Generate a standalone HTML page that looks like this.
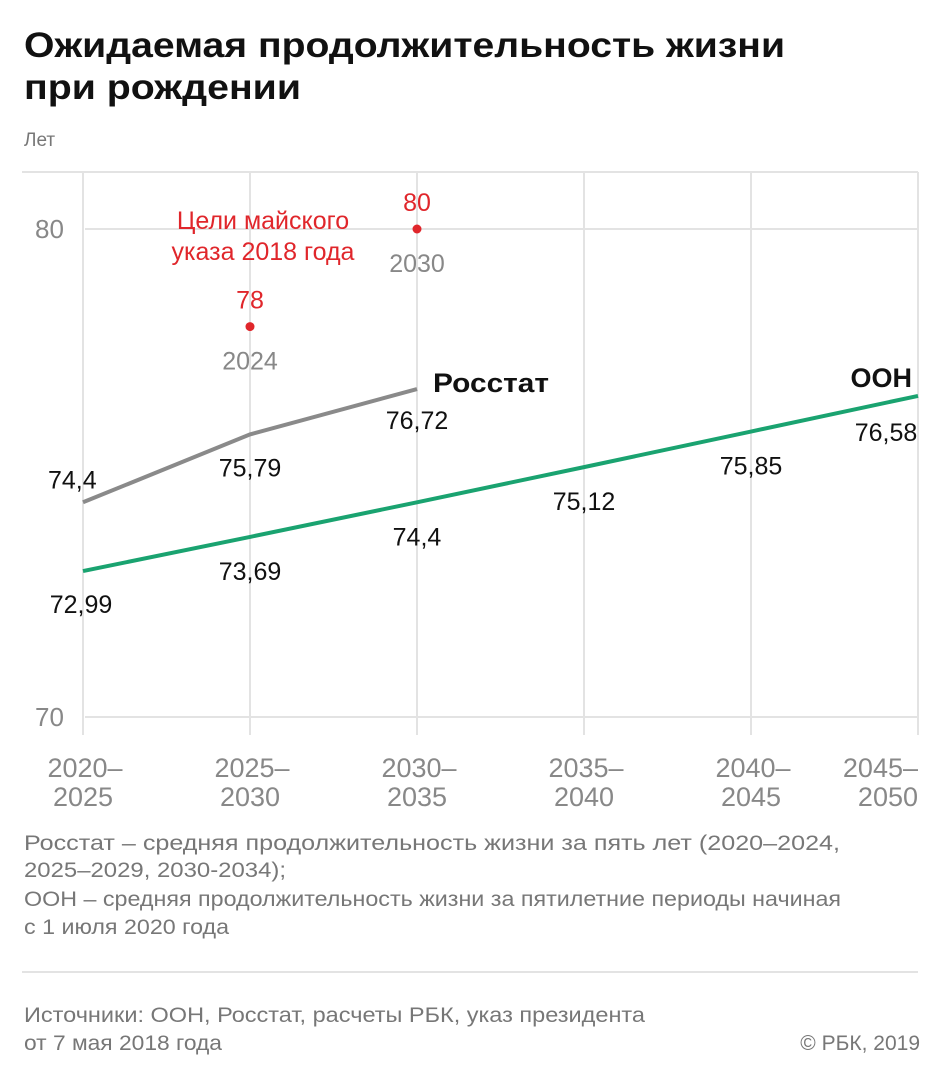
<!DOCTYPE html>
<html><head><meta charset="utf-8"><style>
body{margin:0;background:#fff;font-family:"Liberation Sans",sans-serif;}
svg text{font-family:"Liberation Sans","DejaVu Sans",sans-serif;}
</style></head><body>
<svg width="945" height="1087" viewBox="0 0 945 1087">
<text x="24" y="57" font-size="35" font-weight="bold" fill="#111" textLength="761" lengthAdjust="spacingAndGlyphs">Ожидаемая продолжительность жизни</text>
<text x="24" y="99" font-size="35" font-weight="bold" fill="#111" textLength="277" lengthAdjust="spacingAndGlyphs">при рождении</text>
<text x="24" y="146" font-size="19" fill="#777">Лет</text>
<line x1="22" y1="172" x2="918" y2="172" stroke="#e3e3e3" stroke-width="2"/>
<g id="grid"></g>
<g id="marks"></g>
<line x1="22" y1="972" x2="918" y2="972" stroke="#e3e3e3" stroke-width="2"/>
<g font-size="21" fill="#777" lengthAdjust="spacingAndGlyphs">
<text x="24" y="850" textLength="816" lengthAdjust="spacingAndGlyphs">Росстат – средняя продолжительность жизни за пять лет (2020–2024,</text>
<text x="24" y="877" textLength="262" lengthAdjust="spacingAndGlyphs">2025–2029, 2030-2034);</text>
<text x="24" y="906" textLength="817" lengthAdjust="spacingAndGlyphs">ООН – средняя продолжительность жизни за пятилетние периоды начиная</text>
<text x="24" y="934" textLength="205" lengthAdjust="spacingAndGlyphs">с 1 июля 2020 года</text>
<text x="24" y="1022" textLength="621" lengthAdjust="spacingAndGlyphs">Источники: ООН, Росстат, расчеты РБК, указ президента</text>
<text x="24" y="1050" textLength="198" lengthAdjust="spacingAndGlyphs">от 7 мая 2018 года</text>
<text x="920" y="1050" text-anchor="end">© РБК, 2019</text>
</g>
</svg>
<script>
const categories=["2020–2025","2025–2030","2030–2035","2035–2040","2040–2045","2045–2050"];
const rosstat=[74.4,75.79,76.72];
const oon=[72.99,73.69,74.4,75.12,75.85,76.58];
const targetIdx=[1,2];
const targetVals=[78,80];
const targetYears=["2024","2030"];
const yTicks=[70,80];
const NS="http://www.w3.org/2000/svg";
const xS=i=>83+i*167;
const yS=v=>717-(v-70)*48.8;
function mk(p,t,a,txt){const e=document.createElementNS(NS,t);for(const k in a)e.setAttribute(k,a[k]);if(txt!=null)e.textContent=txt;p.appendChild(e);return e;}
const g=document.getElementById('grid'),m=document.getElementById('marks');
categories.forEach((c,i)=>{
 const l=mk(g,'line',{x1:xS(i),y1:172,x2:xS(i),y2:735,stroke:'#e3e3e3','stroke-width':2});
 
 
 const p=c.split('–');
 const last=i==categories.length-1;
 const anc=last?'end':'middle';
 const tx=last?xS(i):xS(i)+2;
 const t=mk(g,'text',{x:tx,y:777,'font-size':27,fill:'#888','text-anchor':anc},p[0]+'–');
 
 
 const t2=mk(g,'text',{x:last?xS(i):xS(i),y:806,'font-size':27,fill:'#888','text-anchor':anc},p[1]);
 
 
});
yTicks.forEach(v=>{
 const l=mk(g,'line',{x1:85,y1:yS(v),x2:918,y2:yS(v),stroke:'#e3e3e3','stroke-width':2});
 
 
 const t=mk(g,'text',{x:35,y:yS(v)+9,'font-size':26,fill:'#888'},String(v));
 
 
});
const fmt=v=>String(v).replace('.',',');
const rl=mk(m,'polyline',{points:rosstat.map((v,i)=>xS(i)+','+yS(v)).join(' '),fill:'none',stroke:'#8a8a8a','stroke-width':4});


const ol=mk(m,'polyline',{points:oon.map((v,i)=>xS(i)+','+yS(v)).join(' '),fill:'none',stroke:'#1aa370','stroke-width':4});


rosstat.forEach((v,i)=>{
 const dy=i==0?-14:(i==1?42:40);
 const t=mk(m,'text',{x:xS(i),y:yS(v)+dy,'font-size':25,fill:'#111','text-anchor':i==0?'start':'middle'},fmt(v));
 if(i==0)t.setAttribute('x',xS(i)-35);
 
 
});
oon.forEach((v,i)=>{
 const t=mk(m,'text',{x:xS(i),y:yS(v)+(i==5?45:(i==0?42:43)),'font-size':25,fill:'#111','text-anchor':'middle'},fmt(v));
 if(i==0)t.setAttribute('x',xS(i)-2);
 if(i==5)t.setAttribute('x',xS(i)-32);
 
 
});
const rn=mk(m,'text',{x:xS(2)+16,y:yS(rosstat[2])+3,'font-size':27,'font-weight':'bold',fill:'#111',textLength:116,lengthAdjust:'spacingAndGlyphs'},'Росстат');


const on=mk(m,'text',{x:xS(5)-6,y:yS(oon[5])-9,'font-size':27,'font-weight':'bold',fill:'#111','text-anchor':'end'},'ООН');


targetIdx.forEach((ix,k)=>{
 const x=xS(ix),y=yS(targetVals[k]);
 const c=mk(m,'circle',{cx:x,cy:y,r:4.5,fill:'#e0262b'});
 
 
 const t=mk(m,'text',{x:x,y:y-18,'font-size':25,fill:'#e0262b','text-anchor':'middle'},String(targetVals[k]));
 
 
 const t2=mk(m,'text',{x:x,y:y+43,'font-size':25,fill:'#888','text-anchor':'middle'},targetYears[k]);
 
 
});
const a1=mk(m,'text',{x:263,y:229,'font-size':25,fill:'#e0262b','text-anchor':'middle'},'Цели майского');


const a2=mk(m,'text',{x:263,y:260,'font-size':25,fill:'#e0262b','text-anchor':'middle'},'указа 2018 года');


</script>
</body></html>
